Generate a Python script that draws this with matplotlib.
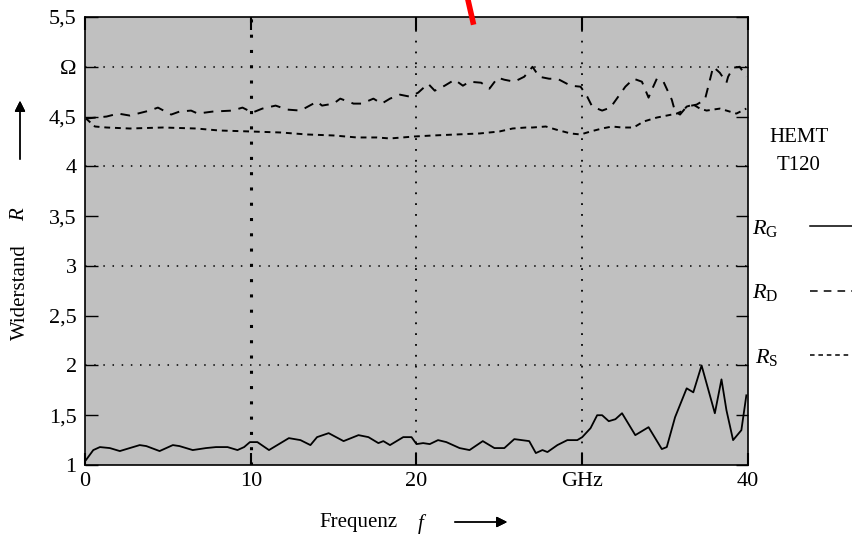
import numpy as np
import matplotlib
matplotlib.use("Agg")
import matplotlib.pyplot as plt
from matplotlib.lines import Line2D

# --------------------------------------------------------------------------- #
# data (frequency in GHz, resistance in Ohm)
f_g = [0.06, 0.5, 0.9, 1.5, 2.1, 2.7, 3.3, 3.7, 4.5, 5.3, 5.7, 6.5, 7.3, 7.9, 8.6,
       9.2, 9.6, 9.95, 10.4, 11.1, 11.8, 12.3, 13.0, 13.6, 14.0, 14.7, 15.6, 16.5,
       17.1, 17.7, 18.0, 18.4, 19.2, 19.7, 20.0, 20.4, 20.8, 21.3, 21.8, 22.6, 23.2,
       24.0, 24.7, 25.3, 25.9, 26.8, 27.2, 27.6, 27.9, 28.5, 29.1, 29.7, 30.0, 30.5,
       30.9, 31.2, 31.6, 32.0, 32.4, 33.2, 34.0, 34.8, 35.1, 35.6, 36.3, 36.7, 37.2,
       38.0, 38.4, 38.7, 39.1, 39.6, 39.9]
r_g = [1.05, 1.15, 1.18, 1.17, 1.14, 1.17, 1.20, 1.19, 1.14, 1.20, 1.19, 1.15, 1.17,
       1.18, 1.18, 1.15, 1.18, 1.23, 1.23, 1.15, 1.22, 1.27, 1.25, 1.20, 1.28, 1.32,
       1.24, 1.30, 1.28, 1.22, 1.24, 1.20, 1.28, 1.28, 1.21, 1.22, 1.21, 1.25, 1.23,
       1.17, 1.15, 1.24, 1.17, 1.17, 1.26, 1.24, 1.12, 1.15, 1.13, 1.20, 1.25, 1.25,
       1.28, 1.37, 1.50, 1.50, 1.44, 1.46, 1.52, 1.30, 1.38, 1.16, 1.18, 1.48, 1.77,
       1.73, 2.00, 1.52, 1.86, 1.55, 1.25, 1.35, 1.70]

f_d = [0.06, 1.3, 2.0, 2.7, 3.9, 4.4, 5.2, 5.7, 6.4, 6.8, 7.7, 8.9, 9.5, 10.1, 10.7,
       11.5, 12.2, 13.0, 14.0, 14.3, 15.0, 15.4, 16.2, 16.7, 17.4, 17.9, 18.4, 19.0,
       19.6, 20.1, 20.7, 21.1, 21.7, 22.3, 22.8, 23.2, 23.9, 24.4, 24.9, 25.3, 25.9,
       26.5, 27.0, 27.4, 28.0, 28.5, 29.3, 29.9, 30.3, 30.6, 31.2, 31.7, 32.3, 32.6,
       33.1, 33.6, 34.0, 34.2, 34.5, 34.9, 35.4, 35.6, 35.9, 36.3, 36.9, 37.4, 37.6,
       37.9, 38.3, 38.7, 38.8, 39.1, 39.5, 39.9]
r_d = [4.48, 4.50, 4.53, 4.51, 4.56, 4.59, 4.52, 4.55, 4.56, 4.53, 4.55, 4.56, 4.59,
       4.54, 4.58, 4.61, 4.57, 4.56, 4.65, 4.61, 4.63, 4.68, 4.63, 4.63, 4.68, 4.63,
       4.68, 4.72, 4.70, 4.74, 4.83, 4.76, 4.81, 4.87, 4.81, 4.85, 4.84, 4.78, 4.89,
       4.87, 4.85, 4.90, 5.00, 4.90, 4.88, 4.88, 4.81, 4.80, 4.70, 4.60, 4.56, 4.59,
       4.73, 4.80, 4.88, 4.85, 4.69, 4.77, 4.88, 4.85, 4.67, 4.55, 4.52, 4.60, 4.62,
       4.67, 4.80, 5.00, 4.94, 4.84, 4.90, 4.99, 5.00, 4.90]

f_s = [0.06, 0.6, 1.3, 2.7, 4.7, 6.7, 8.1, 10.0, 11.8, 13.4, 15.0, 16.4, 17.6, 18.4,
       19.9, 21.0, 22.4, 23.8, 25.0, 25.8, 26.6, 27.0, 27.8, 28.4, 29.3, 29.9, 30.5,
       31.2, 31.8, 32.4, 33.1, 33.7, 34.5, 35.1, 35.7, 36.1, 36.3, 36.7, 37.1, 37.5,
       38.3, 38.9, 39.3, 39.9]
r_s = [4.48, 4.40, 4.39, 4.38, 4.39, 4.38, 4.36, 4.35, 4.34, 4.32, 4.31, 4.29, 4.29,
       4.28, 4.30, 4.31, 4.32, 4.33, 4.35, 4.38, 4.39, 4.39, 4.40, 4.37, 4.33, 4.32,
       4.35, 4.38, 4.40, 4.39, 4.39, 4.45, 4.49, 4.51, 4.53, 4.56, 4.60, 4.62, 4.58,
       4.56, 4.58, 4.55, 4.53, 4.58]

y_ticks = [1, 1.5, 2, 2.5, 3, 3.5, 4, 4.5, 5, 5.5]
y_labels = ["1", "1,5", "2", "2,5", "3", "3,5", "4", "4,5", "Ω", "5,5"]
x_ticks = [0, 10, 20, 30, 40]
x_labels = ["0", "10", "20", "GHz", "40"]

# --------------------------------------------------------------------------- #
plt.rcParams['font.family'] = ['Liberation Serif', 'DejaVu Serif']
plt.rcParams['mathtext.fontset'] = 'custom'
plt.rcParams['mathtext.rm'] = 'Liberation Serif'
plt.rcParams['mathtext.it'] = 'Liberation Serif:italic'

W, H = 853, 537
fig = plt.figure(figsize=(W / 100, H / 100), dpi=100)
ax = fig.add_axes([85 / W, 1 - 465 / H, (748 - 85) / W, (465 - 17) / H])
ax.set_facecolor('#c0c0c0')

# grid
for yv in [2, 3, 4, 5]:
    ax.axhline(yv, color='black', lw=1.1, ls=(0, (1, 5)), zorder=1)
ax.axvline(10, color='black', lw=2.2, ls=(0, (1, 4)), zorder=1)
for xv in [20, 30]:
    ax.axvline(xv, color='black', lw=1.3, ls=(0, (1, 5)), zorder=1)

# curves
st_d = (0, (5, 4))
st_s = (0, (3, 2.5))
ax.plot(f_g, r_g, color='black', lw=1.3, zorder=3)
ax.plot(f_d, r_d, color='black', lw=1.4, ls=st_d, zorder=3)
ax.plot(f_s, r_s, color='black', lw=1.4, ls=st_s, zorder=3)

ax.set_xlim(0, 40)
ax.set_ylim(1, 5.5)
ax.set_yticks(y_ticks)
ax.set_yticklabels(y_labels)
ax.set_xticks(x_ticks)
ax.set_xticklabels(x_labels)
ax.tick_params(axis='y', direction='in', length=9, width=1, left=True, right=True,
               labelsize=16, pad=6)
ax.tick_params(axis='x', direction='in', length=9, width=1.5, top=True, bottom=True,
               labelsize=16, pad=5)
for sp in ax.spines.values():
    sp.set_linewidth(1.2)

# axis labels with arrows
fig.text(20 / W, 1 - 292 / H, "Widerstand", rotation=90, ha='center', va='center',
         fontsize=15)
fig.text(20 / W, 1 - 215 / H, "R", rotation=90, ha='center', va='center',
         fontsize=15, style='italic')
fig.add_artist(plt.annotate("", xy=(20 / W, 1 - 98 / H), xytext=(20 / W, 1 - 162 / H),
                            xycoords='figure fraction',
                            arrowprops=dict(arrowstyle='-|>', color='black', lw=1,
                                            mutation_scale=16)))
fig.text(358 / W, 1 - 522 / H, "Frequenz", ha='center', va='center', fontsize=15)
fig.text(421 / W, 1 - 524 / H, "f", ha='center', va='center', fontsize=15,
         style='italic')
fig.add_artist(plt.annotate("", xy=(510 / W, 1 - 522 / H), xytext=(452 / W, 1 - 522 / H),
                            xycoords='figure fraction',
                            arrowprops=dict(arrowstyle='-|>', color='black', lw=1,
                                            mutation_scale=16)))

# legend area
fig.text(799 / W, 1 - 137 / H, "HEMT", ha='center', va='center', fontsize=15)
fig.text(799 / W, 1 - 166 / H, "T120", ha='center', va='center', fontsize=15)
handles = [Line2D([], [], color='black', lw=1.1),
           Line2D([], [], color='black', lw=1.1, ls=(0, (5, 4))),
           Line2D([], [], color='black', lw=1.1, ls=(0, (3, 2.5)))]
labels = [r"$R_{\rm G}$", r"$R_{\rm D}$", r"$R_{\rm S}$"]
fig.legend(handles, labels, loc='upper left', bbox_to_anchor=(752 / W, 1 - 218 / H),
           frameon=False, markerfirst=False, fontsize=16, handlelength=1.9,
           handletextpad=1.4, labelspacing=1.95, borderaxespad=0, borderpad=0)

# red stroke at the top edge of the slide
fig.add_artist(Line2D([468 / W, 473 / W], [1.0, 1 - 22 / H], color='red', lw=4))

fig.savefig("out.png", dpi=100)
